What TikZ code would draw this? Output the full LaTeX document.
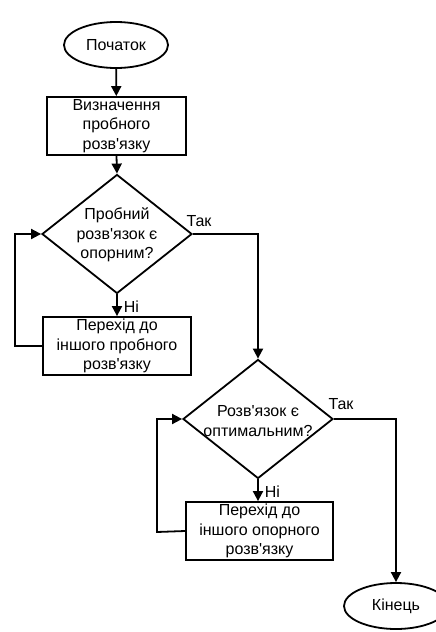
\documentclass[tikz,border=0pt]{standalone}
\usepackage{fontspec}
\setmainfont{Liberation Sans}
\usetikzlibrary{shapes.geometric,arrows.meta}
\newcommand{\ap}{\textquotesingle}
\begin{document}
\begin{tikzpicture}[x=1pt,y=-1pt,
  every node/.style={font=\fontsize{16}{19.5}\selectfont, align=center, inner sep=0pt},
  base/.style={draw=black, line width=1.8pt},
  term/.style={base, ellipse, minimum width=104pt, minimum height=46pt},
  proc/.style={base, rectangle, minimum width=#1, minimum height=58pt},
  dec/.style={base, diamond, minimum width=150pt, minimum height=119pt},
  arr/.style={line width=1.8pt, -{Triangle[length=10pt,width=10pt]}}]
\useasboundingbox (0,0) rectangle (436,632);
\clip (0,0) rectangle (436,632);
\node[term] (start) at (116,45) {Початок};
\node[proc=139pt] (box1) at (116.5,126) {Визначення\\пробного\\розв\ap язку};
\node[dec] (d1) at (117,234) {};
\node (d1t) at (117,235) {Пробний\\розв\ap язок є\\опорним?};
\node[proc=148pt] (box2) at (117,346) {Перехід до\\іншого пробного\\розв\ap язку};
\node[dec] (d2) at (258,419) {};
\node (d2t) at (258,421) {Розв\ap язок є\\оптимальним?};
\node[proc=147pt] (box3) at (259.5,531) {Перехід до\\іншого опорного\\розв\ap язку};
\node[term] (end) at (396,606) {Кінець};
\coordinate (l1) at (15,346);
\coordinate (l2) at (157,532);
\draw[arr] (start) -- (box1);
\draw[arr] (box1.south) -- (d1.north);
\draw[arr] (d1.south) -- node[right=6pt, pos=0.55] (n1) {Ні} (box2.north);
\draw[arr] (box2.west) -- (l1) |- (d1.west);
\draw[arr] (d1.east) -| (d2.north);
\node (y1) at (199,221) {Так};
\draw[arr] (d2.south) -- node[right=6pt, pos=0.55] (n2) {Ні} (d2.south |- box3.north);
\draw[arr] (box3.west) -- (l2) |- (d2.west);
\draw[arr] (d2.east) -| (end.north);
\node (y2) at (341,404) {Так};
\end{tikzpicture}
\end{document}
